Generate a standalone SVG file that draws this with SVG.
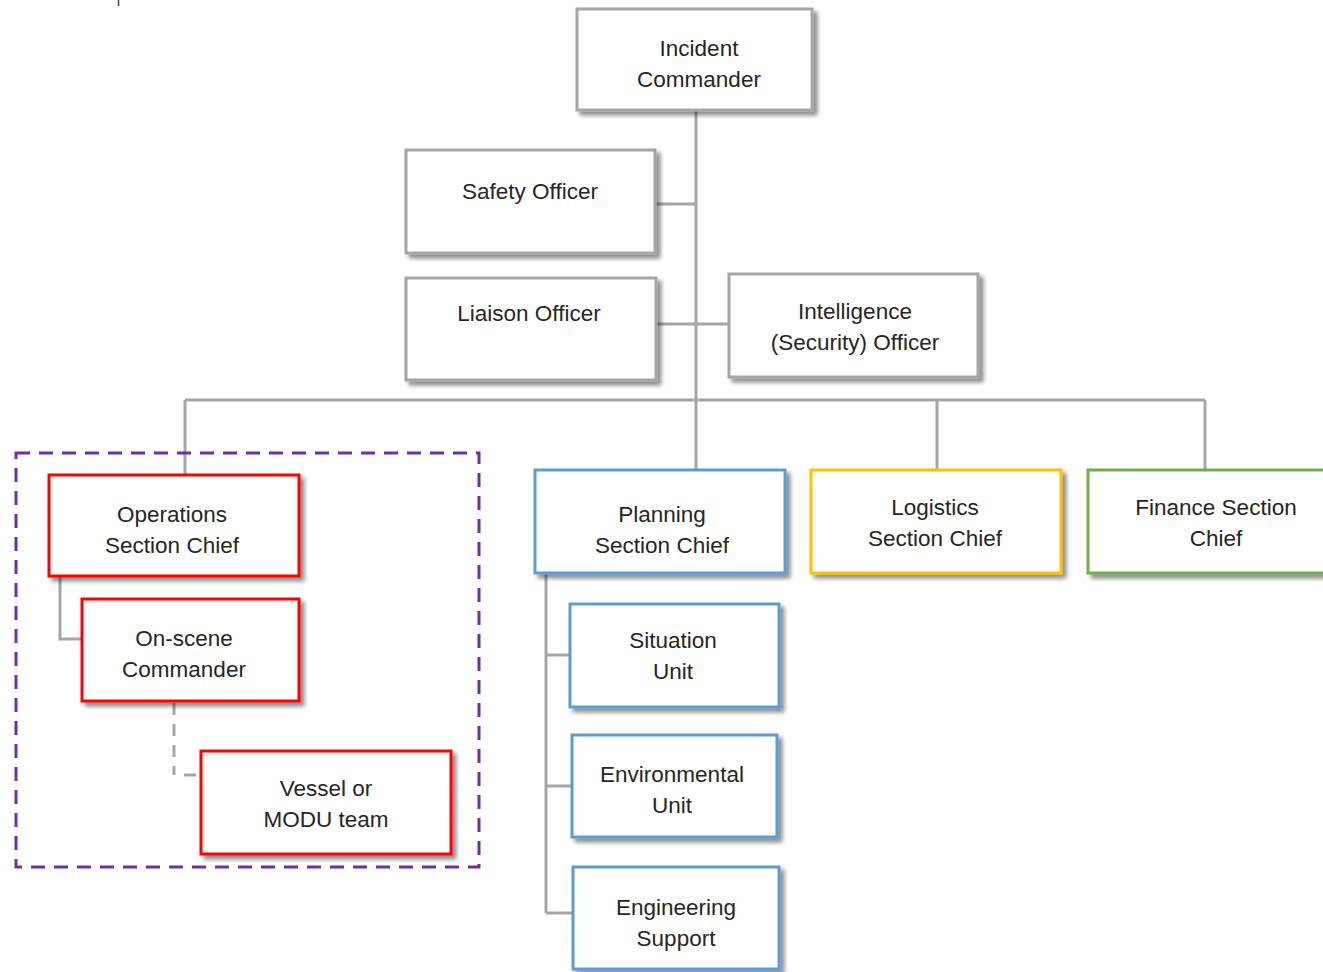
<svg xmlns="http://www.w3.org/2000/svg" width="1323" height="972" viewBox="0 0 1323 972">
  <defs>
    <filter id="shadow" x="-10%" y="-10%" width="130%" height="130%">
      <feGaussianBlur in="SourceAlpha" stdDeviation="2"/>
      <feOffset dx="4" dy="4" result="b"/>
      <feComponentTransfer><feFuncA type="linear" slope="0.45"/></feComponentTransfer>
      <feMerge><feMergeNode/><feMergeNode in="SourceGraphic"/></feMerge>
    </filter>
  </defs>
  <style>
    .box { fill: #ffffff; stroke-width: 3; filter: url(#shadow); }
    .gray { stroke: #a6a6a6; }
    .red { stroke: #ff0000; }
    .blue { stroke: #5b9bd5; }
    .gold { stroke: #ffc000; }
    .green { stroke: #70ad47; }
    .lbl { font-family: "Liberation Sans", Arial, sans-serif; font-size: 22.5px; fill: #262626; text-anchor: middle; }
    .link { fill: none; stroke: #a6a6a6; stroke-width: 3; }
    .dlink { fill: none; stroke: #a6a6a6; stroke-width: 3; stroke-dasharray: 12 9; }
    .group { fill: none; stroke: #7030a0; stroke-width: 3; stroke-dasharray: 14 9; }
  </style>
  <rect width="1323" height="972" fill="#ffffff"/>
  <line x1="118.5" y1="0" x2="118.5" y2="6" stroke="#404040" stroke-width="1.5"/>

  <!-- connectors -->
  <g id="connectors">
    <path class="link" d="M696 110 V470"/>
    <path class="link" d="M655 204 H696"/>
    <path class="link" d="M656 324 H729"/>
    <path class="link" d="M185 400 H1205"/>
    <path class="link" d="M185 400 V475"/>
    <path class="link" d="M937 400 V470"/>
    <path class="link" d="M1205 400 V470"/>
    <path class="link" d="M60 576 V639 H82"/>
    <path class="dlink" d="M174 703 V775"/>
    <path class="dlink" d="M184 775 H201"/>
    <path class="link" d="M546 573 V913"/>
    <path class="link" d="M546 655 H570"/>
    <path class="link" d="M546 786 H572"/>
    <path class="link" d="M546 913 H573"/>
  </g>

  <!-- operations grouping frame -->
  <rect class="group" x="16" y="453" width="463" height="414"/>

  <g id="incident-commander">
    <rect class="box gray" x="577" y="9" width="235" height="101"/>
    <text class="lbl" x="699" y="56">Incident</text>
    <text class="lbl" x="699" y="87">Commander</text>
  </g>
  <g id="safety-officer">
    <rect class="box gray" x="406" y="150" width="249" height="103"/>
    <text class="lbl" x="530" y="199">Safety Officer</text>
  </g>
  <g id="liaison-officer">
    <rect class="box gray" x="406" y="278" width="250" height="102"/>
    <text class="lbl" x="529" y="321">Liaison Officer</text>
  </g>
  <g id="intelligence-officer">
    <rect class="box gray" x="729" y="274" width="249" height="103"/>
    <text class="lbl" x="855" y="319">Intelligence</text>
    <text class="lbl" x="855" y="350">(Security) Officer</text>
  </g>
  <g id="operations-chief">
    <rect class="box red" x="49" y="475" width="250" height="101"/>
    <text class="lbl" x="172" y="522">Operations</text>
    <text class="lbl" x="172" y="553">Section Chief</text>
  </g>
  <g id="on-scene-commander">
    <rect class="box red" x="82" y="599" width="217" height="102"/>
    <text class="lbl" x="184" y="646">On-scene</text>
    <text class="lbl" x="184" y="677">Commander</text>
  </g>
  <g id="vessel-team">
    <rect class="box red" x="201" y="751" width="250" height="103"/>
    <text class="lbl" x="326" y="796">Vessel or</text>
    <text class="lbl" x="326" y="827">MODU team</text>
  </g>
  <g id="planning-chief">
    <rect class="box blue" x="535" y="470" width="250" height="103"/>
    <text class="lbl" x="662" y="522">Planning</text>
    <text class="lbl" x="662" y="553">Section Chief</text>
  </g>
  <g id="situation-unit">
    <rect class="box blue" x="570" y="604" width="209" height="103"/>
    <text class="lbl" x="673" y="648">Situation</text>
    <text class="lbl" x="673" y="679">Unit</text>
  </g>
  <g id="environmental-unit">
    <rect class="box blue" x="572" y="735" width="205" height="102"/>
    <text class="lbl" x="672" y="782">Environmental</text>
    <text class="lbl" x="672" y="813">Unit</text>
  </g>
  <g id="engineering-support">
    <rect class="box blue" x="573" y="867" width="206" height="102"/>
    <text class="lbl" x="676" y="915">Engineering</text>
    <text class="lbl" x="676" y="946">Support</text>
  </g>
  <g id="logistics-chief">
    <rect class="box gold" x="811" y="470" width="250" height="103"/>
    <text class="lbl" x="935" y="515">Logistics</text>
    <text class="lbl" x="935" y="546">Section Chief</text>
  </g>
  <g id="finance-chief">
    <rect class="box green" x="1088" y="470" width="245" height="103"/>
    <text class="lbl" x="1216" y="515">Finance Section</text>
    <text class="lbl" x="1216" y="546">Chief</text>
  </g>
</svg>
